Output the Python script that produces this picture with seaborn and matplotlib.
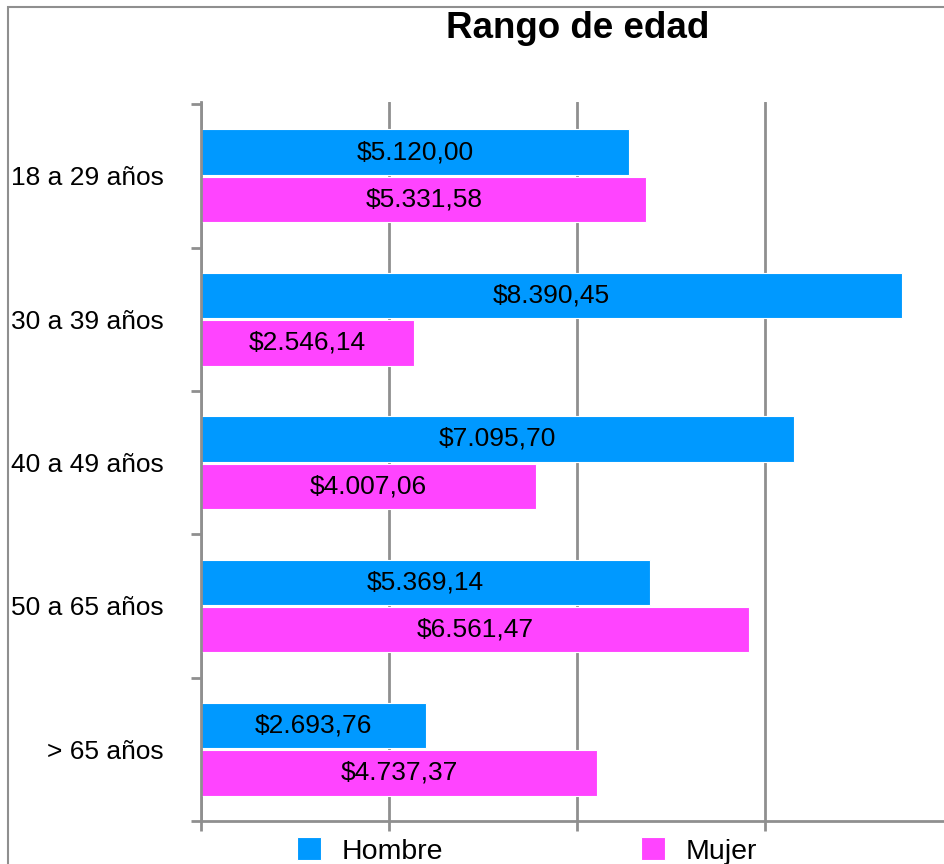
import matplotlib.pyplot as plt
import pandas as pd
import seaborn as sns
from matplotlib.patches import Rectangle

# Data
rangos = ['18 a 29 años', '30 a 39 años', '40 a 49 años', '50 a 65 años', '> 65 años']
hombre = [5120.00, 8390.45, 7095.70, 5369.14, 2693.76]
mujer = [5331.58, 2546.14, 4007.06, 6561.47, 4737.37]
series = ['Hombre', 'Mujer']
colores = {'Hombre': '#0099FF', 'Mujer': '#FF44FF'}

df = pd.DataFrame({'rango': rangos * 2,
                   'sexo': ['Hombre'] * len(rangos) + ['Mujer'] * len(rangos),
                   'valor': hombre + mujer})


def fmt(v):
    # $5.120,00 style
    s = f'{v:,.2f}'.replace(',', 'X').replace('.', ',').replace('X', '.')
    return '$' + s


sns.set_style('white')
plt.rcParams['font.family'] = ['Liberation Sans', 'DejaVu Sans']
plt.rcParams['text.color'] = 'black'
plt.rcParams['ytick.labelcolor'] = 'black'
gris = '#8f8f8f'

fig = plt.figure(figsize=(9.44, 8.64), dpi=100)
ax = fig.add_axes([201 / 944, 43 / 864, 752 / 944, 719 / 864])

sns.barplot(data=df, y='rango', x='valor', hue='sexo', hue_order=series,
            palette=colores, saturation=1, orient='h', width=0.66, gap=0.04,
            edgecolor='white', linewidth=0.8, ax=ax)

for cont in ax.containers:
    ax.bar_label(cont, labels=[fmt(b.get_width()) for b in cont],
                 label_type='center', fontsize=19, color='black')

ax.set_xlim(0, 9000)
ax.set_ylim(len(rangos) - 0.5 - 0.015, -0.5 - 0.015)
ax.set_xticks([0, 2250, 4500, 6750, 9000])
ax.set_xticklabels([])
ax.set_xlabel('')
ax.set_ylabel('')
ax.tick_params(axis='x', length=7, width=2, color=gris, direction='out', bottom=True)
ax.tick_params(axis='y', which='major', length=0, pad=27, labelsize=19, labelcolor='black')
ax.set_yticks([i - 0.5 for i in range(len(rangos) + 1)], minor=True)
ax.tick_params(axis='y', which='minor', length=7, width=2, color=gris, left=True)
ax.grid(axis='x', color=gris, linewidth=2)
ax.set_axisbelow(True)
for side in ['top', 'right']:
    ax.spines[side].set_visible(False)
for side in ['left', 'bottom']:
    ax.spines[side].set_color(gris)
    ax.spines[side].set_linewidth(2)

handles, labels = ax.get_legend_handles_labels()
ax.get_legend().remove()
fig.legend(handles, labels, ncol=2, loc='center', bbox_to_anchor=(527 / 944, 13 / 864),
           frameon=False, fontsize=20.5, handlelength=0.84, handleheight=0.84,
           handletextpad=0.74, columnspacing=6.95, labelcolor='black')

fig.text(578 / 944, 1 - 28 / 864, 'Rango de edad', ha='center', va='center',
         fontsize=26.5, fontweight='bold', color='black')

# outer frame (cropped on right / bottom)
fig.add_artist(Rectangle((8 / 944, -0.1), 1.2, 1.1 - 7 / 864, transform=fig.transFigure,
                         fill=False, edgecolor=gris, linewidth=1.5))

fig.savefig('out.png', dpi=100)
